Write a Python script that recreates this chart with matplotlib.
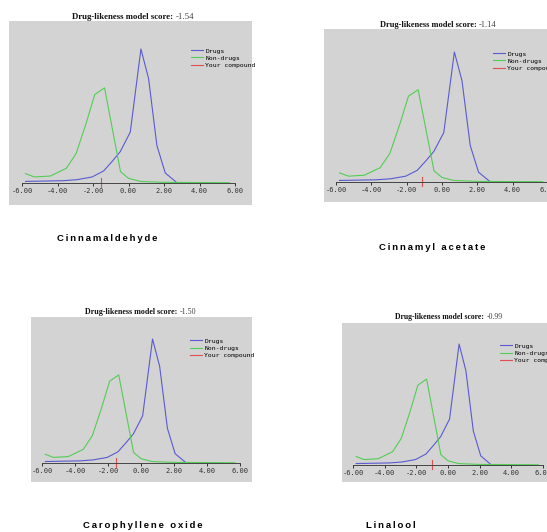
import matplotlib
matplotlib.use("Agg")
import matplotlib.pyplot as plt

# score distributions (same reference curves on every panel)
x_drugs = [-5.8, -3.7, -2.9, -2.05, -1.4, -0.93, -0.46, 0.1, 0.7, 1.13, 1.6, 2.07, 2.7]
y_drugs = [0.012, 0.017, 0.025, 0.045, 0.09, 0.16, 0.235, 0.38, 1.0, 0.78, 0.28, 0.075, 0.005]

x_nondrugs = [-5.8, -5.3, -4.4, -3.5, -2.95, -2.4, -1.9, -1.35, -0.45, 0.0, 0.65, 1.9, 5.7]
y_nondrugs = [0.07, 0.045, 0.052, 0.11, 0.22, 0.44, 0.66, 0.71, 0.085, 0.035, 0.012, 0.005, 0.002]

compounds = ["Cinnamaldehyde", "Cinnamyl acetate", "Carophyllene oxide", "Linalool"]
scores = [-1.54, -1.14, -1.50, -0.99]

tick_values = [-6, -4, -2, 0, 2, 4, 6]
tick_labels = [f"{v:.2f}" for v in tick_values]

W, H = 547, 532

# panel boxes in pixels: grey box, where -6 / 6 land, baseline and peak rows,
# legend anchor, title centre + size, compound name centre
panels = [
    dict(box=(9, 21, 252, 205), xs=(22, 235), base=183, peak=49,
         leg=(188, 49), title=(133, 17, 6.3), name=(107, 238)),
    dict(box=(324, 29, 560, 202), xs=(336, 548), base=182, peak=52,
         leg=(490, 52), title=(438, 25, 6.0), name=(432, 248)),
    dict(box=(31, 317, 252, 482), xs=(42, 240), base=463, peak=339,
         leg=(187, 339), title=(141, 312, 5.8), name=(143, 526)),
    dict(box=(342, 323, 560, 482), xs=(353, 543), base=465, peak=344,
         leg=(497, 344), title=(449, 317, 5.6), name=(391, 526)),
]

fig = plt.figure(figsize=(W / 100, H / 100), dpi=100)
renderer = fig.canvas.get_renderer()


def draw_title(xc, y, score, size):
    a = fig.text(0, 1 - y / H, "Drug-likeness model score:", family="Liberation Serif",
                 weight="bold", size=size, va="center", color="#111111")
    b = fig.text(0, 1 - y / H, f"{score:.2f}", family="Liberation Serif",
                 size=size, va="center", color="#444444")
    wa = a.get_window_extent(renderer).width
    wb = b.get_window_extent(renderer).width
    gap = 2.5
    x = xc - (wa + gap + wb) / 2
    a.set_x(x / W)
    b.set_x((x + wa + gap) / W)


for p, name, score in zip(panels, compounds, scores):
    x0, y0, x1, y1 = p["box"]
    ax = fig.add_axes([x0 / W, 1 - y1 / H, (x1 - x0) / W, (y1 - y0) / H])

    m6, p6 = p["xs"]
    sx = (p6 - m6) / 12.0
    ax.set_xlim(-6 - (m6 - x0) / sx, 6 + (x1 - p6) / sx)
    sy = (p["base"] - p["peak"]) / max(y_drugs)
    ax.set_ylim(-(y1 - p["base"]) / sy, (p["base"] - y0) / sy)

    ax.set_facecolor("#d3d3d3")
    for side in ["top", "right", "left"]:
        ax.spines[side].set_visible(False)
    ax.spines["bottom"].set_position(("data", 0))
    ax.spines["bottom"].set_bounds(-6, 6)
    ax.spines["bottom"].set_color("#444444")
    ax.spines["bottom"].set_linewidth(0.7)
    ax.set_yticks([])
    ax.set_xticks(tick_values, labels=tick_labels, family="DejaVu Sans Mono")
    ax.tick_params(axis="x", length=2.2, width=0.7, pad=1.5, labelsize=5,
                   colors="#333333")

    ax.plot(x_drugs, y_drugs, color="#5a5ad2", lw=0.8, label="Drugs")
    ax.plot(x_nondrugs, y_nondrugs, color="#55cc55", lw=0.8, label="Non-drugs")
    ax.plot([score, score], [-4 / sy, 5 / sy], color="#e05050", lw=0.8,
            label="Your compound")

    lx, ly = p["leg"]
    ax.legend(loc="upper left", bbox_to_anchor=(lx / W, 1 - (ly - 4) / H),
              bbox_transform=fig.transFigure, frameon=False, borderpad=0,
              handlelength=1.9, handletextpad=0.3, labelspacing=0.25,
              prop={"family": "DejaVu Sans Mono", "size": 4.6})

    tx, ty, tsize = p["title"]
    draw_title(tx, ty, score, tsize)

    nx, ny = p["name"]
    fig.text(nx / W, 1 - ny / H, "\u2009".join(name), ha="center", va="center",
             weight="heavy", size=6.8, family=["Liberation Sans", "DejaVu Sans"])

fig.savefig("out.png", dpi=100)
